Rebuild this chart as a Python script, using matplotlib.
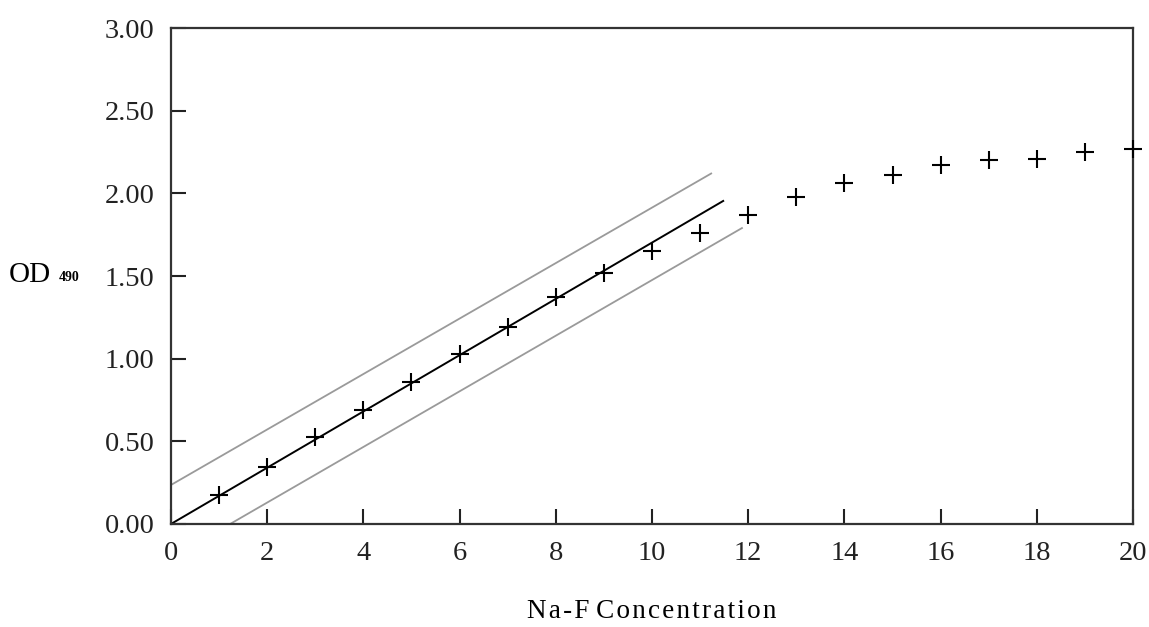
import numpy as np
import matplotlib.pyplot as plt

# Na-F concentration vs OD490 readings
conc = [1, 2, 3, 4, 5, 6, 7, 8, 9, 10, 11, 12, 13, 14, 15, 16, 17, 18, 19, 20]
od = [0.175, 0.345, 0.525, 0.69, 0.86, 1.03, 1.19, 1.37, 1.52, 1.65,
      1.76, 1.87, 1.98, 2.06, 2.11, 2.17, 2.20, 2.21, 2.25, 2.27]

# linear fit and its band (start/end points)
fit_x = [0, 11.48]
fit_y = [0, 1.954]
upper_x = [0, 11.23]
upper_y = [0.236, 2.12]
lower_x = [1.23, 11.87]
lower_y = [0, 1.79]

plt.rcParams['font.family'] = ['Liberation Serif', 'DejaVu Serif']

fig = plt.figure(figsize=(11.49, 6.27), dpi=100)
ax = fig.add_axes([0.1488, 0.1643, 0.8373, 0.791])

ax.plot(upper_x, upper_y, color='#9a9a9a', lw=1.3)
ax.plot(lower_x, lower_y, color='#9a9a9a', lw=1.3)
ax.plot(fit_x, fit_y, color='black', lw=1.4)
ax.plot(conc, od, linestyle='none', marker='+', color='black',
        markersize=13, markeredgewidth=1.5, clip_on=False, zorder=5)

ax.set_xlim(0, 20)
ax.set_ylim(0, 3)
ax.set_xticks(range(0, 21, 2))
ax.set_yticks(np.arange(0, 3.01, 0.5))
ax.set_yticklabels(['%.2f' % v for v in np.arange(0, 3.01, 0.5)])
ax.tick_params(direction='in', length=11, width=1.5, labelsize=20.5,
               colors='#222222', pad=12)
for s in ax.spines.values():
    s.set_linewidth(1.6)
    s.set_color('#333333')

# the original label is letter-spaced, so put hair spaces between letters
xlabel = '\u200a'.join('Na-F') + ' ' + '\u200a'.join('Concentration')
ax.set_xlabel(xlabel, fontsize=19.5, labelpad=24)
fig.text(0.008, 0.561, 'OD', fontsize=21, va='center', ha='left')
fig.text(0.051, 0.557, '490', fontsize=10, fontweight='bold', va='center', ha='left')

fig.savefig('out.png', dpi=100)
